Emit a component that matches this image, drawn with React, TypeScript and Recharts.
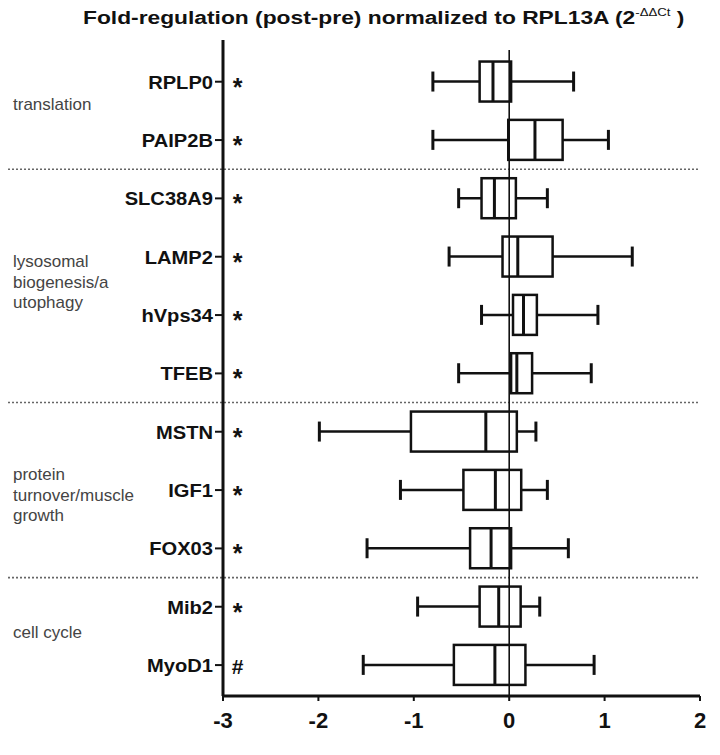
import React from 'react';
import { ComposedChart, Bar, XAxis, YAxis, ReferenceLine } from 'recharts';

// gene rows, top to bottom
const genes = ['RPLP0', 'PAIP2B', 'SLC38A9', 'LAMP2', 'hVps34', 'TFEB', 'MSTN', 'IGF1', 'FOX03', 'Mib2', 'MyoD1'];
const marks = ['*', '*', '*', '*', '*', '*', '*', '*', '*', '*', '#'];
// box plot values (log fold change)
const whiskerLow = [-0.8, -0.8, -0.53, -0.63, -0.29, -0.53, -1.99, -1.14, -1.49, -0.96, -1.53];
const boxLow = [-0.31, -0.01, -0.29, -0.07, 0.04, 0.02, -1.03, -0.48, -0.41, -0.31, -0.58];
const medians = [-0.17, 0.27, -0.155, 0.09, 0.15, 0.08, -0.245, -0.145, -0.19, -0.11, -0.15];
const boxHigh = [0.02, 0.56, 0.07, 0.455, 0.29, 0.24, 0.08, 0.126, 0.02, 0.12, 0.17];
const whiskerHigh = [0.675, 1.04, 0.4, 1.29, 0.93, 0.86, 0.28, 0.4, 0.62, 0.32, 0.89];

const xTicks = [-3, -2, -1, 0, 1, 2];
const separators = [2.5, 6.5, 9.5];
const groupLabels = [
    { at: 1.4, lines: ['translation'] },
    { at: 4.45, lines: ['lysosomal', 'biogenesis/a', 'utophagy'] },
    { at: 8.1, lines: ['protein', 'turnover/muscle', 'growth'] },
    { at: 10.45, lines: ['cell cycle'] },
];

const rows = genes.map((g, i) => ({
    pos: i + 1,
    gene: g,
    whisker: [whiskerLow[i], whiskerHigh[i]],
    box: [boxLow[i], boxHigh[i]],
    med: [boxLow[i], medians[i]],
}));

const FONT = '"Liberation Sans", Arial, Helvetica, sans-serif';
const BAR = 40;

// whisker line + end caps
const WhiskerShape = (p: any) => {
    const { x, y, width, height } = p;
    const cy = y + height / 2;
    return (
        <g stroke="#111">
            <line x1={x} x2={x + width} y1={cy} y2={cy} strokeWidth={2.5} />
            <line x1={x} x2={x} y1={cy - 10} y2={cy + 10} strokeWidth={3} />
            <line x1={x + width} x2={x + width} y1={cy - 10} y2={cy + 10} strokeWidth={3} />
        </g>
    );
};

const BoxShape = (p: any) => {
    const { x, y, width, height } = p;
    return <rect x={x} y={y} width={width} height={height} fill="#fff" stroke="#111" strokeWidth={2.5} />;
};

// only the right edge = median
const MedianShape = (p: any) => {
    const { x, y, width, height } = p;
    return <line x1={x + width} x2={x + width} y1={y} y2={y + height} stroke="#111" strokeWidth={3} />;
};

const GeneTick = (props: any) => {
    const { x, y, payload } = props;
    const i = payload.value - 1;
    if (i < 0 || i >= genes.length) return null;
    const m = marks[i];
    return (
        <g>
            <g transform={`translate(${x},${y + 7}) scale(1.06,1)`}>
                <text x={0} y={0} textAnchor="end" fontSize={19} fontWeight="bold" fill="#111" style={{ fontFamily: FONT }}>
                    {genes[i]}
                </text>
            </g>
            <text x={x + 24.5} y={y + (m === '#' ? 9 : 14)} textAnchor="middle" fontSize={m === '#' ? 21 : 25} fontWeight="bold" fill="#111" style={{ fontFamily: FONT }}>
                {m}
            </text>
        </g>
    );
};

const ValueTick = (props: any) => {
    const { x, y, payload } = props;
    return (
        <text x={x} y={y} dy={25} textAnchor="middle" fontSize={22} fontWeight="bold" fill="#111" style={{ fontFamily: FONT }}>
            {payload.value}
        </text>
    );
};

// dotted separator that runs out into the left margin
const SeparatorShape = (p: any) => {
    return <line x1={0} x2={p.x2} y1={p.y1} y2={p.y2} stroke="#666" strokeWidth={1.6} strokeDasharray="2 2" />;
};

const GroupLabel = (lines: string[]) => (p: any) => {
    const vb = p.viewBox || {};
    const cy = vb.y ?? 0;
    const lh = 20.5;
    const top = cy - ((lines.length - 1) * lh) / 2 + 5;
    return (
        <text fontSize={17} fill="#444" style={{ fontFamily: FONT }}>
            {lines.map((l, k) => (
                <tspan key={k} x={13} y={top + k * lh}>{l}</tspan>
            ))}
        </text>
    );
};

export default function App() {
    return (
        <div style={{ position: 'relative', width: 720, height: 755, margin: -8, background: '#fff', fontFamily: FONT }}>
            <ComposedChart
                width={720}
                height={755}
                layout="vertical"
                data={rows}
                margin={{ top: 40, right: 20, bottom: 0, left: 0 }}
                barGap={-BAR}
            >
                <XAxis
                    type="number"
                    domain={[-3, 2]}
                    ticks={xTicks}
                    height={59}
                    axisLine={{ stroke: '#111', strokeWidth: 3 }}
                    tickLine={{ stroke: '#111', strokeWidth: 2 }}
                    tickSize={5}
                    tick={<ValueTick />}
                />
                <YAxis
                    type="number"
                    dataKey="pos"
                    domain={[0.285, 11.53]}
                    ticks={rows.map((r) => r.pos)}
                    width={223}
                    axisLine={{ stroke: '#111', strokeWidth: 3 }}
                    tickLine={{ stroke: '#111', strokeWidth: 2 }}
                    tickSize={8}
                    tick={<GeneTick />}
                    interval={0}
                />
                {separators.map((s) => (
                    <ReferenceLine key={s} y={s} ifOverflow="visible" shape={SeparatorShape} />
                ))}
                {groupLabels.map((g) => (
                    <ReferenceLine key={g.at} y={g.at} stroke="none" ifOverflow="visible" label={GroupLabel(g.lines)} />
                ))}
                <Bar dataKey="whisker" barSize={BAR} shape={WhiskerShape} isAnimationActive={false} />
                <Bar dataKey="box" barSize={BAR} shape={BoxShape} isAnimationActive={false} />
                <Bar dataKey="med" barSize={BAR} shape={MedianShape} isAnimationActive={false} />
                <ReferenceLine
                    segment={[{ x: 0, y: 0.455 }, { x: 0, y: 11.53 }]}
                    stroke="#111"
                    strokeWidth={1.6}
                    ifOverflow="visible"
                />
            </ComposedChart>
            <svg width={720} height={40} style={{ position: 'absolute', left: 0, top: 0, pointerEvents: 'none' }}>
                <g transform="translate(83,24) scale(1.2,1)">
                    <text x={0} y={0} fontSize={19} fontWeight="bold" fill="#111" style={{ fontFamily: FONT }}>
                        Fold-regulation (post-pre) normalized to RPL13A (2
                        <tspan fontSize={11} dy={-8} fontWeight="normal">-ΔΔCt</tspan>
                        <tspan fontSize={19} dy={8}> )</tspan>
                    </text>
                </g>
            </svg>
        </div>
    );
}
